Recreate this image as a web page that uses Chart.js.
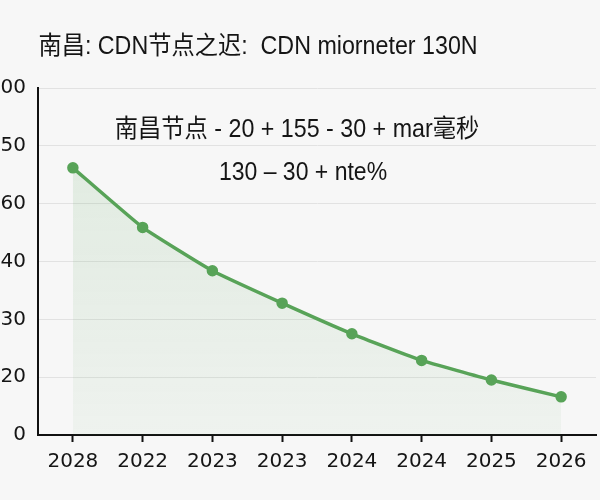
<!DOCTYPE html>
<html>
<head>
<meta charset="utf-8">
<script src="https://cdn.jsdelivr.net/npm/chart.js@4"></script>
<style>
  html, body { margin: 0; padding: 0; background: #f7f7f7; }
  #wrap { width: 600px; height: 500px; }
</style>
</head>
<body>
<div id="wrap"><canvas id="chart"></canvas></div>
<script>
// --- Datos ---
const years = ['2028', '2022', '2023', '2023', '2024', '2024', '2025', '2026'];
const latency = [4.62, 3.59, 2.84, 2.28, 1.75, 1.29, 0.95, 0.66]; // en unidades de la cuadrícula
const yTickLabels = ['0', '20', '30', '40', '60', '50', '00'];

const titleText = '南昌: CDN节点之迟:  CDN miorneter 130N';
const noteLines = ['南昌节点 - 20 + 155 - 30 + mar毫秒', '130 – 30 + nte%'];

const LATIN = '"DejaVu Sans", "Noto Sans CJK SC", sans-serif';
const TITLE_FONT = '"Liberation Sans", "Noto Sans CJK SC", sans-serif';

// Texto centrado con ligera compresión horizontal
function drawText(ctx, text, cx, cy, size, sx) {
    ctx.save();
    ctx.translate(cx, cy);
    ctx.scale(sx, 1);
    ctx.font = size + 'px ' + TITLE_FONT;
    ctx.fillText(text, 0, 0);
    ctx.restore();
}

// Textos de título y anotación dibujados sobre el canvas
const textPlugin = {
    id: 'textos',
    afterDraw(chart) {
        const ctx = chart.ctx;
        ctx.save();
        ctx.fillStyle = '#151515';
        ctx.textAlign = 'center';
        ctx.textBaseline = 'middle';
        drawText(ctx, titleText, 258, 47, 25, 0.93);
        drawText(ctx, noteLines[0], 297, 130, 25, 0.93);
        drawText(ctx, noteLines[1], 303, 173, 25, 0.92);
        ctx.restore();
    }
};

const ctx = document.getElementById('chart').getContext('2d');
new Chart(ctx, {
    type: 'line',
    data: {
        labels: years,
        datasets: [{
            data: latency,
            borderColor: 'rgb(88, 163, 88)',
            borderWidth: 3.5,
            pointBackgroundColor: 'rgb(88, 163, 88)',
            pointBorderColor: 'rgb(88, 163, 88)',
            pointRadius: 4,
            tension: 0.12,
            fill: 'origin',
            backgroundColor: (c) => {
                const area = c.chart.chartArea;
                if (!area) return 'rgba(88,163,88,0.1)';
                const g = c.chart.ctx.createLinearGradient(0, area.top, 0, area.bottom);
                g.addColorStop(0, 'rgba(88,163,88,0.16)');
                g.addColorStop(1, 'rgba(88,163,88,0.05)');
                return g;
            }
        }]
    },
    options: {
        responsive: true,
        maintainAspectRatio: false,
        animation: false,
        layout: { autoPadding: false, padding: { top: 88, right: 4, bottom: 18, left: 0 } },
        plugins: {
            legend: { display: false },
            title: { display: false },
            tooltip: { enabled: false }
        },
        scales: {
            x: {
                offset: true,
                grid: {
                    drawOnChartArea: false,
                    drawTicks: true,
                    tickLength: 7,
                    tickWidth: 2,
                    tickColor: '#111'
                },
                border: { display: true, color: '#111', width: 2 },
                ticks: {
                    color: '#151515',
                    padding: 8,
                    maxRotation: 0,
                    autoSkip: false,
                    font: { family: LATIN, size: 20 }
                }
            },
            y: {
                min: 0,
                max: 6,
                afterFit: (scale) => { scale.width = 38; },
                grid: { color: '#e2e2e2', lineWidth: 1, drawTicks: false },
                border: { display: true, color: '#111', width: 2 },
                ticks: {
                    stepSize: 1,
                    padding: 12,
                    color: '#151515',
                    font: { family: LATIN, size: 20 },
                    callback: (v) => yTickLabels[v]
                }
            }
        }
    },
    plugins: [textPlugin]
});
</script>
</body>
</html>
